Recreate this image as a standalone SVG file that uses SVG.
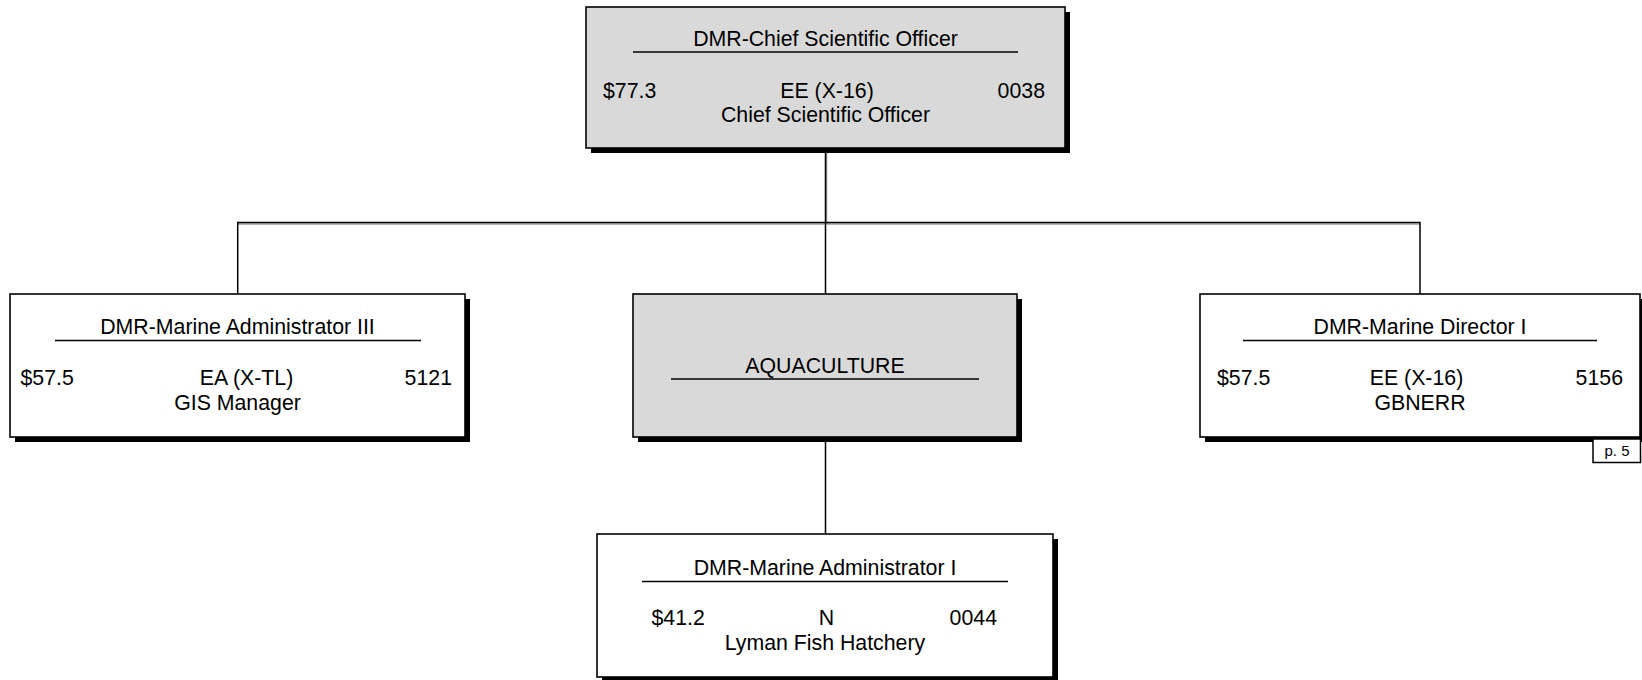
<svg xmlns="http://www.w3.org/2000/svg" width="1642" height="680" viewBox="0 0 1642 680">
<style>
.bg{fill:#ffffff}
.box{fill:#ffffff;stroke:#000;stroke-width:1.6}
.gray{fill:#d9d9d9}
.sh{fill:#000}
.rule{stroke:#000;stroke-width:1.5}
.con{stroke:#000;stroke-width:1.5;fill:none}
.conSh{stroke:#9a9a9a;stroke-width:1.5;fill:none}
text{font-family:"Liberation Sans",Arial,sans-serif;font-size:21.3px;fill:#000}
.m{text-anchor:middle}
.e{text-anchor:end}
.small{font-size:15px}
</style>
<rect class="bg" x="0" y="0" width="1642" height="680"/>
<g id="connectors">
<path class="conSh" d="M237.7 224 H1420 M826.5 150 V224"/>
<path class="con" d="M825.5 148 V222.5 M237.7 294 V222.5 H1420 V294 M825.5 222.5 V294 M825.5 437 V534"/>
</g>
<g id="chief">
<rect class="sh" x="591" y="12" width="479" height="141"/>
<rect class="box gray" x="586" y="7" width="479" height="141"/>
<text class="m" x="825.5" y="46">DMR-Chief Scientific Officer</text>
<line class="rule" x1="633" y1="52" x2="1018" y2="52"/>
<text x="603" y="98">$77.3</text>
<text class="m" x="827" y="98">EE (X-16)</text>
<text class="e" x="1045" y="98">0038</text>
<text class="m" x="825.5" y="122">Chief Scientific Officer</text>
</g>
<g id="gis">
<rect class="sh" x="15" y="299" width="455" height="143"/>
<rect class="box" x="10" y="294" width="455" height="143"/>
<text class="m" x="237.5" y="334">DMR-Marine Administrator III</text>
<line class="rule" x1="55" y1="340.5" x2="421" y2="340.5"/>
<text x="20.5" y="385">$57.5</text>
<text class="m" x="246.5" y="385">EA (X-TL)</text>
<text class="e" x="452" y="385">5121</text>
<text class="m" x="237.5" y="410">GIS Manager</text>
</g>
<g id="aquaculture">
<rect class="sh" x="638" y="299" width="384" height="143"/>
<rect class="box gray" x="633" y="294" width="384" height="143"/>
<text class="m" x="825" y="373">AQUACULTURE</text>
<line class="rule" x1="671" y1="379" x2="979" y2="379"/>
</g>
<g id="gbnerr">
<rect class="sh" x="1205" y="299" width="440" height="143"/>
<rect class="box" x="1200" y="294" width="440" height="143"/>
<text class="m" x="1420" y="334">DMR-Marine Director I</text>
<line class="rule" x1="1243" y1="340.5" x2="1597" y2="340.5"/>
<text x="1217" y="385">$57.5</text>
<text class="m" x="1416.5" y="385">EE (X-16)</text>
<text class="e" x="1623" y="385">5156</text>
<text class="m" x="1420" y="410">GBNERR</text>
</g>
<g id="page-ref">
<rect x="1593" y="439" width="47.5" height="23.5" fill="#fff" stroke="#000" stroke-width="1.5"/>
<text class="m small" x="1617" y="456">p. 5</text>
</g>
<g id="hatchery">
<rect class="sh" x="602" y="539" width="456" height="143"/>
<rect class="box" x="597" y="534" width="456" height="143"/>
<text class="m" x="825" y="575">DMR-Marine Administrator I</text>
<line class="rule" x1="642" y1="581.5" x2="1008" y2="581.5"/>
<text x="651.5" y="625">$41.2</text>
<text class="m" x="826.5" y="625">N</text>
<text class="e" x="997" y="625">0044</text>
<text class="m" x="825" y="650">Lyman Fish Hatchery</text>
</g>
</svg>
